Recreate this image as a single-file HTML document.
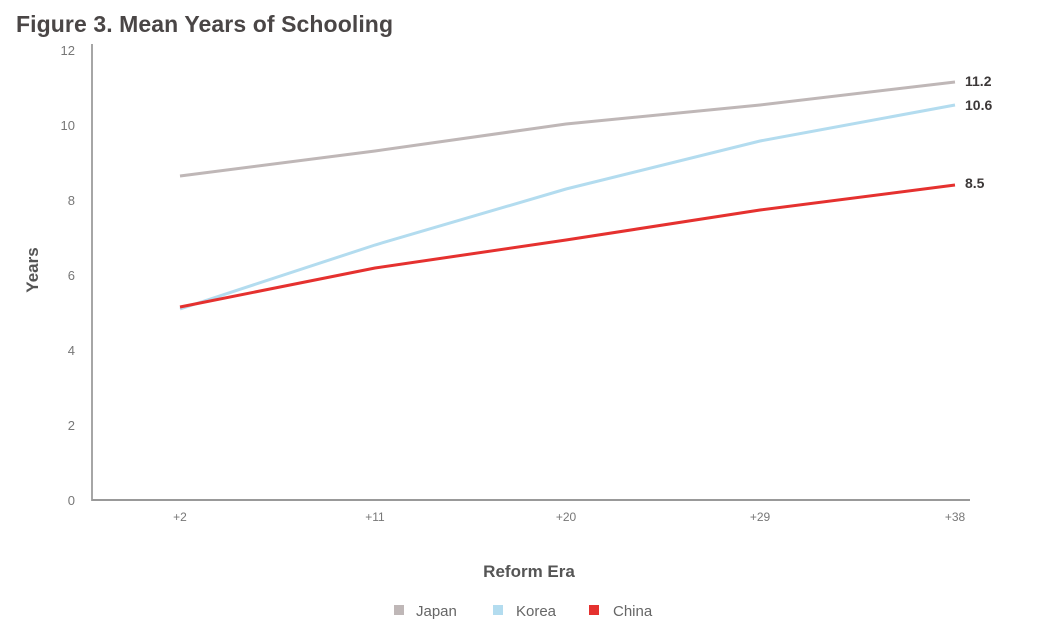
<!DOCTYPE html>
<html><head><meta charset="utf-8"><style>
html,body{margin:0;padding:0;background:#fff;width:1040px;height:624px;overflow:hidden}
svg{display:block;font-family:"Liberation Sans",sans-serif}
</style></head><body>
<svg width="1040" height="624" viewBox="0 0 1040 624">
<text x="16" y="32" font-size="23" font-weight="bold" fill="#4a4646" textLength="377">Figure 3. Mean Years of Schooling</text>
<g font-size="13" fill="#777" text-anchor="end">
<text x="75" y="55">12</text><text x="75" y="130">10</text><text x="75" y="205">8</text>
<text x="75" y="280">6</text><text x="75" y="355">4</text><text x="75" y="430">2</text><text x="75" y="505">0</text>
</g>
<line x1="92" y1="44" x2="92" y2="501" stroke="#888" stroke-width="1.5"/>
<line x1="92" y1="500" x2="970" y2="500" stroke="#999" stroke-width="2"/>
<g font-size="12" fill="#777" text-anchor="middle">
<text x="180" y="521">+2</text><text x="375" y="521">+11</text><text x="566" y="521">+20</text>
<text x="760" y="521">+29</text><text x="955" y="521">+38</text>
</g>
<text x="529" y="577" font-size="17" font-weight="bold" fill="#555" text-anchor="middle">Reform Era</text>
<text transform="translate(38,270) rotate(-90)" font-size="17" font-weight="bold" fill="#555" text-anchor="middle">Years</text>
<polyline fill="none" stroke="#bfb7b7" stroke-width="3" points="180,176 375,151 566,124 760,105 955,82"/>
<polyline fill="none" stroke="#b3dcef" stroke-width="3" points="180,309 375,245 566,189 760,141 955,105"/>
<polyline fill="none" stroke="#e5312f" stroke-width="3" points="180,307 375,268 566,240 760,210 955,185"/>
<g font-size="14" font-weight="bold" fill="#3c3838">
<text x="965" y="86">11.2</text><text x="965" y="110">10.6</text><text x="965" y="188">8.5</text>
</g>
<g font-size="15" fill="#666">
<rect x="394" y="605" width="10" height="10" fill="#bfb7b7"/><text x="416" y="616">Japan</text>
<rect x="493" y="605" width="10" height="10" fill="#b3dcef"/><text x="516" y="616">Korea</text>
<rect x="589" y="605" width="10" height="10" fill="#e5312f"/><text x="613" y="616">China</text>
</g>
</svg>
</body></html>
